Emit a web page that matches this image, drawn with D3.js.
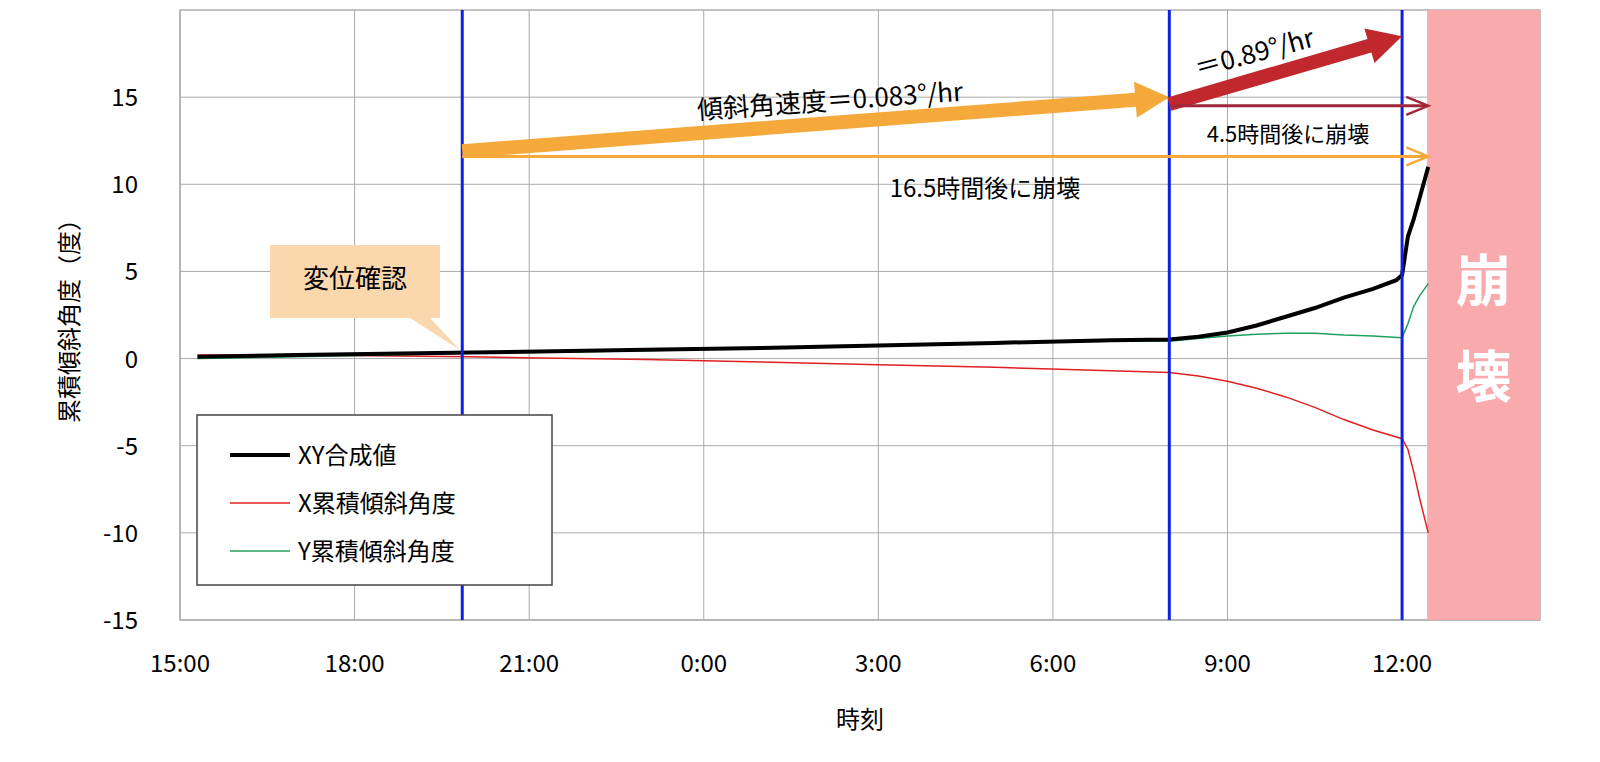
<!DOCTYPE html><html><head><meta charset="utf-8">
<script src="https://cdn.jsdelivr.net/npm/d3@7"></script>
<style>body{margin:0;background:#fff}text{font-family:"Noto Sans CJK JP",sans-serif}</style></head><body>
<svg id="c" width="1600" height="762"></svg>
<script>
const xTickLabels=["15:00","18:00","21:00","0:00","3:00","6:00","9:00","12:00"];
const yTicks=[-15,-10,-5,0,5,10,15];
// hours since 15:00
const tXY=[0.3,2,5,8,10,12,14,16,17,17.5,18,18.5,19,19.5,20,20.5,20.9,21,21.1,21.2,21.3,21.45];
const vXY=[0.1,0.2,0.35,0.5,0.6,0.75,0.9,1.05,1.1,1.25,1.5,1.9,2.4,2.9,3.5,4.0,4.5,4.8,7.0,8.0,9.2,11];
const tX=[0.3,2,5,8,10,12,14,16,17,17.5,18,18.5,19,19.5,20,20.5,21,21.1,21.2,21.3,21.45];
const vX=[0.2,0.2,0.1,-0.05,-0.2,-0.35,-0.5,-0.7,-0.8,-1.0,-1.3,-1.7,-2.2,-2.8,-3.5,-4.1,-4.6,-5.2,-6.5,-8,-10];
const tY=[0.3,2,5,8,10,12,14,16,17,17.5,18,18.5,19,19.5,20,20.5,21,21.1,21.2,21.3,21.45];
const vY=[0,0.1,0.3,0.45,0.6,0.75,0.9,1.0,1.0,1.15,1.3,1.4,1.45,1.45,1.35,1.3,1.2,2.0,3.0,3.6,4.3];
const blueLines=[4.85,17,21];
const svg=d3.select("#c");
const L=180,R=1540,T=10,B=620;
const x=d3.scaleLinear().domain([0,23.37]).range([L,R]);
const y=d3.scaleLinear().domain([-15,20]).range([B,T]);
const g=svg.append("g");
g.append("rect").attr("x",L).attr("y",T).attr("width",R-L).attr("height",B-T).attr("fill","#fff").attr("stroke","#888");
xTickLabels.forEach((l,i)=>{g.append("line").attr("x1",x(i*3)).attr("x2",x(i*3)).attr("y1",T).attr("y2",B).attr("stroke","#aaa");
 g.append("text").attr("x",x(i*3)).attr("y",B+52).attr("text-anchor","middle").attr("font-size",24).text(l);});
yTicks.forEach(v=>{g.append("line").attr("x1",L).attr("x2",R).attr("y1",y(v)).attr("y2",y(v)).attr("stroke","#aaa");
 g.append("text").attr("x",L-42).attr("y",y(v)+9).attr("text-anchor","end").attr("font-size",24).text(v);});
g.append("rect").attr("x",x(21.43)).attr("y",T).attr("width",R-x(21.43)).attr("height",B-T).attr("fill","#f9aaad");
g.append("text").attr("x",x(22.4)).attr("y",y(3.3)).attr("text-anchor","middle").attr("font-size",56).attr("font-weight","bold").attr("fill","#fff").text("崩");
g.append("text").attr("x",x(22.4)).attr("y",y(-2.2)).attr("text-anchor","middle").attr("font-size",56).attr("font-weight","bold").attr("fill","#fff").text("壊");
const line=d3.line().x(d=>x(d[0])).y(d=>y(d[1]));
g.append("path").attr("d",line(d3.zip(tX,vX))).attr("fill","none").attr("stroke","#e02020").attr("stroke-width",1.5);
g.append("path").attr("d",line(d3.zip(tY,vY))).attr("fill","none").attr("stroke","#20a060").attr("stroke-width",1.5);
g.append("path").attr("d",line(d3.zip(tXY,vXY))).attr("fill","none").attr("stroke","#000").attr("stroke-width",4);
blueLines.forEach(t=>g.append("line").attr("x1",x(t)).attr("x2",x(t)).attr("y1",T).attr("y2",B).attr("stroke","#1020e0").attr("stroke-width",3));
function fat(x1,y1,x2,y2,c,w,hw,hl){const a=Math.atan2(y2-y1,x2-x1),ca=Math.cos(a),sa=Math.sin(a);
 const bx=x2-hl*ca,by=y2-hl*sa,px=-sa,py=ca;
 const p=[[x1+px*w/2,y1+py*w/2],[bx+px*w/2,by+py*w/2],[bx+px*hw,by+py*hw],[x2,y2],[bx-px*hw,by-py*hw],[bx-px*w/2,by-py*w/2],[x1-px*w/2,y1-py*w/2]];
 g.append("polygon").attr("points",p.map(q=>q.join(",")).join(" ")).attr("fill",c);}
fat(x(4.85),y(11.9),x(17),y(15),"#f4a93a",14,18,34);
fat(x(17),y(14.6),x(21),y(18.5),"#c0282d",14,18,34);
function thin(x1,yy,x2,c){g.append("line").attr("x1",x1).attr("x2",x2-2).attr("y1",yy).attr("y2",yy).attr("stroke",c).attr("stroke-width",3);
 g.append("polyline").attr("points",`${x2-22},${yy-9} ${x2},${yy} ${x2-22},${yy+9}`).attr("fill","none").attr("stroke",c).attr("stroke-width",2.5);}
thin(x(17),y(14.5),x(21.45),"#a0283a");
thin(x(4.85),y(11.6),x(21.45),"#f4a93a");
g.append("text").attr("x",830).attr("y",110).attr("text-anchor","middle").attr("font-size",26).attr("transform","rotate(-4,830,100)").text("傾斜角速度＝0.083°/hr");
g.append("text").attr("x",1255).attr("y",62).attr("text-anchor","middle").attr("font-size",26).attr("transform","rotate(-15,1255,55)").text("＝0.89°/hr");
g.append("text").attr("x",1288).attr("y",142).attr("text-anchor","middle").attr("font-size",22).text("4.5時間後に崩壊");
g.append("text").attr("x",985).attr("y",197).attr("text-anchor","middle").attr("font-size",24).text("16.5時間後に崩壊");
g.append("path").attr("d","M270,245 H440 V318 H430 L460,350 L410,318 H270 Z").attr("fill","#fbd7ae");
g.append("text").attr("x",355).attr("y",288).attr("text-anchor","middle").attr("font-size",26).text("変位確認");
g.append("rect").attr("x",197).attr("y",415).attr("width",355).attr("height",170).attr("fill","#fff").attr("stroke","#444").attr("stroke-width",1.5);
[["XY合成値","#000",4],["X累積傾斜角度","#e02020",1.5],["Y累積傾斜角度","#20a060",1.5]].forEach((d,i)=>{const yy=455+i*48;
 g.append("line").attr("x1",230).attr("x2",290).attr("y1",yy).attr("y2",yy).attr("stroke",d[1]).attr("stroke-width",d[2]);
 g.append("text").attr("x",298).attr("y",yy+9).attr("font-size",24).text(d[0]);});
g.append("text").attr("x",860).attr("y",728).attr("text-anchor","middle").attr("font-size",24).text("時刻");
g.append("text").attr("transform","translate(78,315) rotate(-90)").attr("text-anchor","middle").attr("font-size",24).text("累積傾斜角度（度）");
</script></body></html>
